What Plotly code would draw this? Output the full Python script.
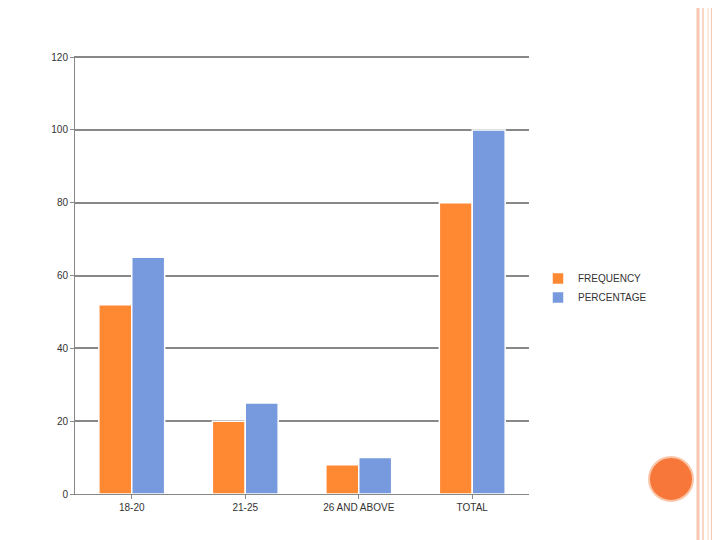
import plotly.graph_objects as go

categories = ["18-20", "21-25", "26 AND ABOVE", "TOTAL"]
frequency = [52, 20, 8, 80]
percentage = [65, 25, 10, 100]

fig = go.Figure()
fig.add_bar(x=categories, y=frequency, name="FREQUENCY", marker=dict(color="#FF8833", line=dict(color="white", width=1.5)))
fig.add_bar(x=categories, y=percentage, name="PERCENTAGE", marker=dict(color="#7799DD", line=dict(color="white", width=1.5)))

L, T, W, H = 67, 48, 454, 438
def px(x): return (x - L) / W
def py(y): return (T + H - y) / H

shapes = []
for x, c, w in [(690, "#F8C8B0", 3), (695, "#F8C8B0", 1.5), (700, "#FAD5C0", 1), (705, "#F8C8B0", 4), (712, "#FBD8C8", 1)]:
    shapes.append(dict(type="line", xref="paper", yref="paper", x0=px(x), x1=px(x), y0=py(540), y1=py(0), line=dict(color=c, width=w)))
shapes.append(dict(type="circle", xref="paper", yref="paper", x0=px(641), x1=px(685), y0=py(493), y1=py(449), fillcolor="#F7773A", line=dict(color="#FBC6A8", width=2)))

fig.update_layout(
    width=720, height=540, barmode="group", bargap=0.42, bargroupgap=0.0,
    margin=dict(l=L, r=720 - L - W, t=T, b=540 - T - H, autoexpand=False),
    plot_bgcolor="white", paper_bgcolor="white",
    font=dict(family="Liberation Sans, Arial", size=10, color="#333"),
    legend=dict(x=px(530), y=py(256), xanchor="left", yanchor="top", font=dict(size=10),
                itemwidth=30, tracegroupgap=0),
    shapes=shapes,
    xaxis=dict(showline=True, linecolor="#888", ticks="outside", ticklen=4, tickcolor="#888", automargin=False),
    yaxis=dict(range=[0, 120.3], tickvals=[0, 20, 40, 60, 80, 100, 120], showgrid=True, gridcolor="#888", gridwidth=1.5,
               showline=True, linecolor="#888", ticks="outside", ticklen=4, tickcolor="#888", zeroline=False, automargin=False),
)
fig.write_html("out.html")
